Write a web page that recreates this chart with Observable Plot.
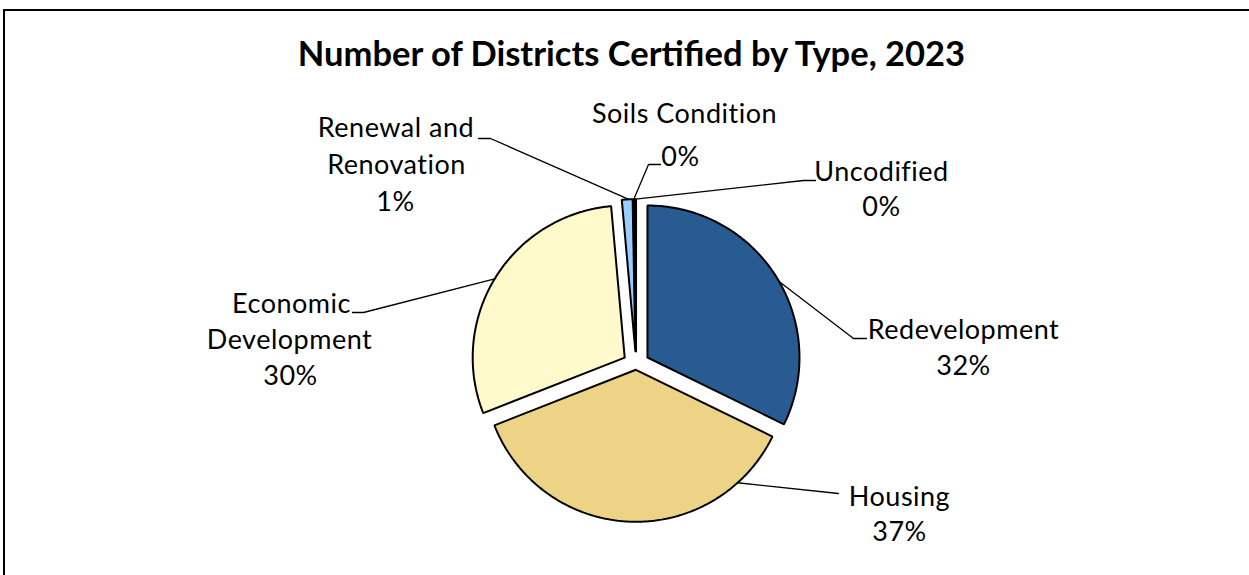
<!DOCTYPE html>
<html><head><meta charset="utf-8">
<script src="https://cdn.jsdelivr.net/npm/d3@7"></script>
<script src="https://cdn.jsdelivr.net/npm/@observablehq/plot@0.6"></script>
<style>
html,body{margin:0;padding:0;background:#fff;overflow:hidden;}
#wrap{position:relative;width:1249px;height:575px;overflow:hidden;}
#frame{position:absolute;left:3px;top:9px;width:1300px;height:700px;border-left:2px solid #000;border-top:2px solid #000;box-sizing:border-box;}
#title{position:absolute;left:0;width:1263px;top:36px;text-align:center;font-family:Lato,sans-serif;font-weight:bold;font-size:34.5px;line-height:34px;color:#000;}
#chart{position:absolute;left:0;top:0;}
</style></head><body>
<div id="wrap"><div id="frame"></div><div id="chart"></div><div id="title">Number of Districts Certified by Type, 2023</div></div>
<script>
// ---- data ----
const categories = ["Redevelopment", "Housing", "Economic Development", "Renewal and Renovation", "Soils Condition", "Uncodified"];
const counts = [226, 258, 207, 8, 1, 1];
const sliceColors = ["#275b92", "#edd386", "#fff9cc", "#99ccff", "#4f81bd", "#8db3e2"];
const labelLines = [["Redevelopment"], ["Housing"], ["Economic", "Development"], ["Renewal and", "Renovation"], ["Soils Condition"], ["Uncodified"]];

// ---- layout ----
const W = 1249, H = 575, CX = 635.6, CY = 364.1, RADIUS = 152;
const explode = [13.4, 5.2, 13.4, 13.4, 13.4, 13.4];
const labelLayout = [
  {x: [963, 963], y: 338, lh: 36.7, leaderAngle: 60, hook: [[866, 338], [853, 338]]},
  {x: [899, 899], y: 505, lh: 35.5, leaderAngle: 138, hook: [[838, 493]]},
  {x: [291, 289, 290], y: 312, lh: 36, leaderAngle: 301.2, hook: [[352, 312], [363, 312]]},
  {x: [395.5, 396, 395], y: 136.7, lh: 36.7, leaderAngle: 357.5, hook: [[478, 138], [490, 138]]},
  {x: [684, 680], y: 122, lh: 43, leaderAngle: 359.2, hook: [[660, 164], [648, 164]]},
  {x: [881, 881], y: 180, lh: 35, leaderAngle: 359.8, hook: [[815, 180], [803, 180]]}
];

const total = d3.sum(counts);
const arcs = d3.pie().sort(null)(counts);

const apex = arcs.map((a, i) => {
  const mid = (a.startAngle + a.endAngle) / 2;
  return [CX + explode[i] * Math.sin(mid), CY - explode[i] * Math.cos(mid)];
});

const slicePts = arcs.flatMap((a, i) => {
  const cat = categories[i];
  const [ox, oy] = apex[i];
  const n = Math.max(2, Math.ceil((a.endAngle - a.startAngle) / 0.01));
  const pts = [{cat, x: ox, y: oy}];
  for (let k = 0; k <= n; k++) {
    const t = a.startAngle + (a.endAngle - a.startAngle) * k / n;
    pts.push({cat, x: ox + RADIUS * Math.sin(t), y: oy - RADIUS * Math.cos(t)});
  }
  pts.push({cat, x: ox, y: oy});
  return pts;
});

const leaderPts = labelLayout.flatMap((L, i) => {
  const cat = categories[i];
  const [ox, oy] = apex[i];
  const t = L.leaderAngle * Math.PI / 180;
  const pts = L.hook.map(([x, y]) => ({cat, x, y}));
  pts.push({cat, x: ox + RADIUS * Math.sin(t), y: oy - RADIUS * Math.cos(t)});
  return pts;
});

const labelRows = labelLayout.flatMap((L, i) => {
  const pct = Math.round(counts[i] / total * 100) + "%";
  const lines = [...labelLines[i], pct];
  return lines.map((text, j) => ({cat: categories[i], text, x: L.x[j], y: L.y + j * L.lh}));
});

const chart = Plot.plot({
  width: W, height: H, margin: 0,
  style: {fontFamily: "Lato, sans-serif", background: "transparent", letterSpacing: "0.5px"},
  x: {type: "linear", domain: [0, W], range: [0, W], axis: null},
  y: {type: "linear", domain: [0, H], range: [0, H], axis: null},
  color: {domain: categories, range: sliceColors},
  marks: [
    Plot.line(slicePts, {x: "x", y: "y", z: "cat", fill: "cat", stroke: "#000", strokeWidth: 2, strokeLinejoin: "miter"}),
    Plot.line(leaderPts, {x: "x", y: "y", z: "cat", stroke: "#000", strokeWidth: 1.3}),
    Plot.text(labelRows, {x: "x", y: "y", text: "text", lineAnchor: "bottom", textAnchor: "middle", fontSize: 27, fill: "#000"})
  ]
});
document.getElementById("chart").appendChild(chart);
</script>
</body></html>
